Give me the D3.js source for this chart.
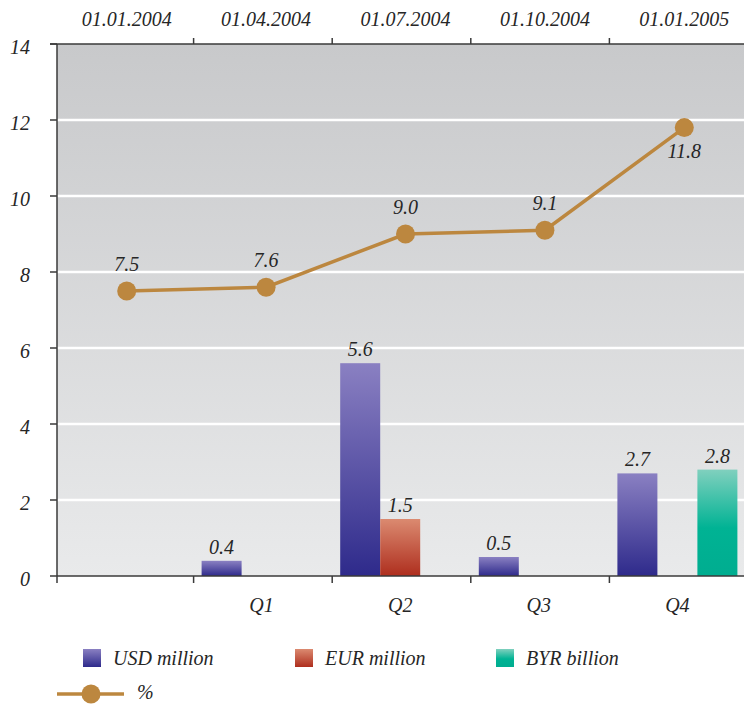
<!DOCTYPE html>
<html><head><meta charset="utf-8">
<script src="https://cdn.jsdelivr.net/npm/d3@7"></script>
<style>body{margin:0;background:#fff}svg{display:block}
text{font-family:"Liberation Serif",serif;font-style:italic}</style>
</head><body><svg id="c" width="744" height="704"></svg>
<script>
// ---- data ----
const dateLabels = ["01.01.2004","01.04.2004","01.07.2004","01.10.2004","01.01.2005"];
const rateValues = [7.5, 7.6, 9.0, 9.1, 11.8];
const quarters = ["", "Q1", "Q2", "Q3", "Q4"];
const seriesNames = ["USD million", "EUR million", "BYR billion"];
const usdValues = [null, 0.4, 5.6, 0.5, 2.7];
const eurValues = [null, null, 1.5, null, null];
const byrValues = [null, null, null, null, 2.8];
const yTicks = [0, 2, 4, 6, 8, 10, 12, 14];
const lineLegend = "%";

(function () {
// ---- setup ----
const svg = d3.select("#c");
const TXT = "#262626";
const LINEC = "#bc873f";
const pL = 57, pR = 744, pT = 44, pB = 576;

const y = d3.scaleLinear().domain([0, 14]).range([pB, pT]);
const x0 = d3.scaleBand().domain(quarters).range([55, 748]);
const x1 = d3.scaleBand().domain(seriesNames).range([8, 128]);
const xp = d3.scalePoint().domain(dateLabels).range([57, 754]).padding(0.5);

const defs = svg.append("defs");
const bg = defs.append("linearGradient").attr("id", "bg").attr("x1", 0).attr("y1", 0).attr("x2", 0).attr("y2", 1);
bg.append("stop").attr("offset", 0).attr("stop-color", "#c8c9cb");
bg.append("stop").attr("offset", 1).attr("stop-color", "#e9eaeb");

const gradStops = {
  "USD million": [[0, "#8a80c2"], [1, "#2e2a8b"]],
  "EUR million": [[0, "#db8a70"], [1, "#ae2e1e"]],
  "BYR billion": [[0, "#80d0be"], [0.55, "#00b394"], [1, "#00ad90"]]
};
const gid = s => "g" + s.split(" ")[0];
seriesNames.forEach(s => {
  const g = defs.append("linearGradient").attr("id", gid(s)).attr("x1", 0).attr("y1", 0).attr("x2", 0).attr("y2", 1);
  gradStops[s].forEach(([o, c]) => g.append("stop").attr("offset", o).attr("stop-color", c));
});

// background
svg.append("rect").attr("x", pL).attr("y", pT).attr("width", pR - pL).attr("height", pB - pT).attr("fill", "url(#bg)");

// grid
svg.append("g").selectAll("line").data(yTicks.filter(t => t > 0 && t < 14)).join("line")
  .attr("x1", pL).attr("x2", pR).attr("y1", d => y(d)).attr("y2", d => y(d))
  .attr("stroke", "#fff").attr("stroke-width", 2.5);

// bars
const seriesData = { "USD million": usdValues, "EUR million": eurValues, "BYR billion": byrValues };
const barData = [];
quarters.forEach((q, i) => seriesNames.forEach(s => {
  const v = seriesData[s][i];
  if (v != null) barData.push({ q, s, v });
}));
const txt = sel => sel.attr("font-size", 20).attr("fill", TXT);

const bars = svg.append("g");
bars.selectAll("rect").data(barData).join("rect")
  .attr("x", d => x0(d.q) + x1(d.s)).attr("width", x1.bandwidth())
  .attr("y", d => y(d.v)).attr("height", d => y(0) - y(d.v))
  .attr("fill", d => `url(#${gid(d.s)})`);
bars.selectAll("text").data(barData).join("text").call(txt)
  .attr("x", d => x0(d.q) + x1(d.s) + x1.bandwidth() / 2).attr("y", d => y(d.v) - 7)
  .attr("text-anchor", "middle").text(d => d3.format(".1f")(d.v));

// axes
const ax = svg.append("g").attr("stroke", "#3a3a3a").attr("stroke-width", 1.5);
ax.append("line").attr("x1", 50).attr("x2", pR).attr("y1", pT).attr("y2", pT);
ax.append("line").attr("x1", pL).attr("x2", pR).attr("y1", pB).attr("y2", pB);
ax.append("line").attr("x1", pL).attr("x2", pL).attr("y1", pT).attr("y2", pB + 7);
ax.selectAll(".yt").data(yTicks).join("line").attr("class", "yt")
  .attr("x1", 50).attr("x2", pL).attr("y1", d => y(d)).attr("y2", d => y(d));
ax.selectAll(".bt").data(quarters.slice(1)).join("line").attr("class", "bt")
  .attr("x1", d => x0(d)).attr("x2", d => x0(d)).attr("y1", pB).attr("y2", pB + 7);
ax.selectAll(".tt").data(quarters.slice(1)).join("line").attr("class", "tt")
  .attr("x1", d => x0(d)).attr("x2", d => x0(d)).attr("y1", pT).attr("y2", pT - 6);

svg.append("g").selectAll("text").data(yTicks).join("text").call(txt)
  .attr("x", 30).attr("y", d => y(d) + 10).attr("text-anchor", "end").text(d => d);
svg.append("g").selectAll("text").data(quarters.slice(1)).join("text").call(txt)
  .attr("x", d => x0(d) + 8 + 60).attr("y", 612).attr("text-anchor", "middle").text(d => d);
svg.append("g").selectAll("text").data(dateLabels).join("text").call(txt)
  .attr("x", d => xp(d)).attr("y", 26).attr("text-anchor", "middle").text(d => d);

// line
const pts = dateLabels.map((d, i) => ({ d, v: rateValues[i], i }));
svg.append("path").datum(pts)
  .attr("d", d3.line().x(p => xp(p.d)).y(p => y(p.v)))
  .attr("fill", "none").attr("stroke", LINEC).attr("stroke-width", 3.5);
svg.append("g").selectAll("circle").data(pts).join("circle")
  .attr("cx", p => xp(p.d)).attr("cy", p => y(p.v)).attr("r", 9.5).attr("fill", LINEC);
svg.append("g").selectAll("text").data(pts).join("text").call(txt)
  .attr("x", p => xp(p.d)).attr("y", p => p.i === pts.length - 1 ? y(p.v) + 30 : y(p.v) - 20)
  .attr("text-anchor", "middle").text(p => d3.format(".1f")(p.v));

// legend
const legX = [83, 295, 496];
const leg = svg.append("g");
seriesNames.forEach((s, i) => {
  leg.append("rect").attr("x", legX[i]).attr("y", 649).attr("width", 18).attr("height", 18).attr("fill", `url(#${gid(s)})`);
  leg.append("text").call(txt).attr("x", legX[i] + 30).attr("y", 665).text(s);
});
leg.append("line").attr("x1", 57).attr("x2", 124).attr("y1", 694).attr("y2", 694).attr("stroke", LINEC).attr("stroke-width", 3.5);
leg.append("circle").attr("cx", 91).attr("cy", 694).attr("r", 9.5).attr("fill", LINEC);
leg.append("text").call(txt).attr("x", 137).attr("y", 699).text(lineLegend);
})();
</script></body></html>
